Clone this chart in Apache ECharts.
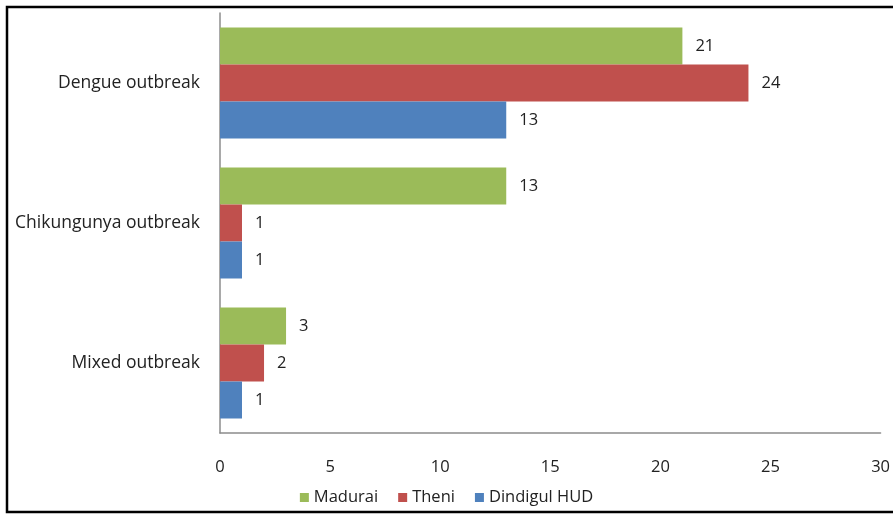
<!DOCTYPE html>
<html>
<head>
<meta charset="utf-8">
<script src="https://cdn.jsdelivr.net/npm/echarts@6/dist/echarts.min.js"></script>
<style>
  html, body { margin: 0; padding: 0; background: #fff; }
  #chart { width: 893px; height: 514px; }
</style>
</head>
<body>
<div id="chart"></div>
<script>
// Outbreak counts by type and health unit district
const categories = ['Dengue outbreak', 'Chikungunya outbreak', 'Mixed outbreak'];
const madurai = [21, 13, 3];
const theni = [24, 1, 2];
const dindigul = [13, 1, 1];
const xTicks = [0, 5, 10, 15, 20, 25, 30];

const FONT = '"Open Sans", "Noto Sans", sans-serif';
const chart = echarts.init(document.getElementById('chart'), null, { renderer: 'canvas' });

function barSeries(name, data, color) {
  return {
    name: name,
    type: 'bar',
    data: data,
    barWidth: 37,
    barGap: '0%',
    itemStyle: { color: color },
    label: {
      show: true,
      position: 'right',
      distance: 13,
      color: '#222',
      fontFamily: FONT,
      fontSize: 16.5
    }
  };
}

chart.setOption({
  animation: false,
  backgroundColor: '#fff',
  graphic: [{
    type: 'rect',
    shape: { x: 7, y: 7, width: 900, height: 505 },
    style: { fill: null, stroke: '#000', lineWidth: 2.5 },
    silent: true,
    z: 100
  }],
  grid: { left: 220, right: 10, top: 13, bottom: 81, containLabel: false },
  legend: {
    data: ['Madurai', 'Theni', 'Dindigul HUD'],
    bottom: 3,
    left: 'center',
    itemWidth: 9,
    itemHeight: 9,
    itemGap: 20,
    icon: 'rect',
    textStyle: { fontFamily: FONT, fontSize: 16.5, color: '#222' }
  },
  xAxis: {
    type: 'value',
    min: xTicks[0],
    max: xTicks[xTicks.length - 1],
    interval: 5,
    axisLine: { show: true, lineStyle: { color: '#8c8c8c', width: 1.5 } },
    axisTick: { show: false },
    splitLine: { show: false },
    axisLabel: { margin: 26, fontFamily: FONT, fontSize: 16.5, color: '#222' }
  },
  yAxis: {
    type: 'category',
    data: categories,
    inverse: true,
    axisLine: { show: true, lineStyle: { color: '#8c8c8c', width: 1.5 } },
    axisTick: { show: false },
    axisLabel: { margin: 20, fontFamily: FONT, fontSize: 17.5, color: '#222' }
  },
  series: [
    barSeries('Madurai', madurai, '#9BBB59'),
    barSeries('Theni', theni, '#C0504D'),
    barSeries('Dindigul HUD', dindigul, '#4F81BD')
  ]
});
</script>
</body>
</html>
